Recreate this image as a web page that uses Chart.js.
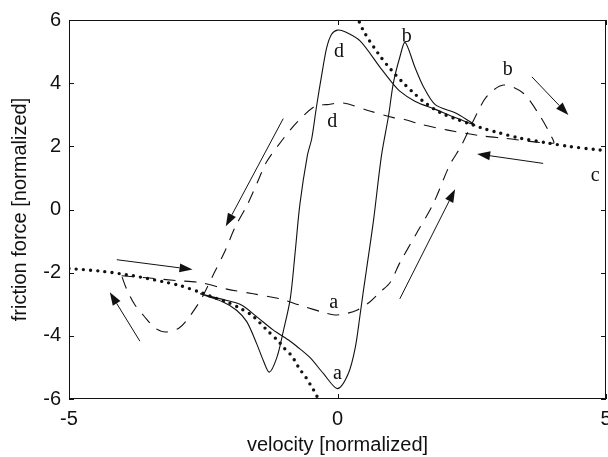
<!DOCTYPE html>
<html>
<head>
<meta charset="utf-8">
<script src="https://cdn.jsdelivr.net/npm/chart.js@4.4.1/dist/chart.umd.min.js"></script>
<style>
  html, body { margin: 0; padding: 0; background: #fff; }
  #wrap { width: 608px; height: 457px; position: relative; }
</style>
</head>
<body>
<div id="wrap"><canvas id="frictionChart"></canvas></div>
<script>
// steady-state friction curve (dotted), v > 0 and v < 0 branches
const dotPosV = [0.36, 0.41, 0.48, 0.60, 0.71, 0.80, 1.00, 1.20, 1.40, 1.60, 1.80, 2.00, 2.25, 2.50, 2.75, 3.00, 3.40, 3.90, 4.30, 4.80, 5.00];
const dotPosF = [6.15, 5.92, 5.67, 5.33, 5.06, 4.84, 4.42, 4.05, 3.72, 3.42, 3.18, 3.00, 2.84, 2.69, 2.55, 2.43, 2.26, 2.11, 2.00, 1.90, 1.86];
const dotNegV = [-5.00, -4.42, -3.80, -3.18, -2.93, -2.56, -2.31, -2.06, -1.82, -1.60, -1.45, -1.29, -1.10, -1.00, -0.88, -0.79, -0.71, -0.59, -0.48, -0.39, -0.35];
const dotNegF = [-1.87, -1.95, -2.10, -2.31, -2.41, -2.62, -2.78, -2.93, -3.12, -3.34, -3.58, -3.86, -4.17, -4.38, -4.58, -4.80, -5.04, -5.31, -5.62, -5.88, -6.15];

// small-amplitude hysteresis loop (solid)
const loopV = [-2.56, -2.06, -1.78, -1.50, -1.20, -0.88, -0.76, -0.51, -0.26, 0.00,
  0.20, 0.33, 0.42, 0.48, 0.54, 0.67, 0.82, 0.95, 1.04, 1.16, 1.26,
  1.44, 1.60, 1.82, 2.19, 2.44, 2.56,
  2.44, 2.19, 1.82, 1.44, 1.16, 1.00, 0.79, 0.42, 0.15, 0.00,
  -0.11, -0.20, -0.29, -0.39, -0.48, -0.56, -0.70, -0.79, -0.88, -1.01, -1.13, -1.27,
  -1.38, -1.50, -1.69, -1.88, -2.13, -2.56];
const loopF = [-2.67, -2.88, -3.03, -3.40, -3.81, -4.17, -4.33, -4.69, -5.20, -5.67,
  -5.20, -4.38, -3.34, -2.60, -1.90, -0.35, 1.72, 2.96, 4.00, 4.82, 5.29,
  4.51, 3.89, 3.32, 3.06, 2.81, 2.67,
  2.75, 2.91, 3.17, 3.43, 3.75, 4.05, 4.51, 5.34, 5.62, 5.68,
  5.55, 5.13, 4.30, 3.27, 2.24, 1.72, 0.17, -1.38, -2.83, -3.86, -4.69, -5.15,
  -4.79, -4.27, -3.55, -3.19, -2.93, -2.67];

// large-amplitude hysteresis loop (dashed)
const wideV = [-4.02, -3.50, -3.00, -2.56, -2.06, -1.57, -1.07, -0.70, -0.20, -0.05, 0.17, 0.36, 0.60, 0.79, 0.98,
  1.16, 1.47, 1.78, 2.09, 2.30, 2.53, 2.78, 3.09, 3.46, 3.77, 3.99, 4.02,
  3.09, 2.65, 2.03, 1.57, 1.23, 1.04, 0.60, 0.11, -0.20, -0.42, -0.76, -1.01, -1.32,
  -1.49, -1.68, -1.91, -2.09, -2.30, -2.53, -2.76, -2.95, -3.20, -3.40, -3.60, -3.78, -3.92, -4.02];
const wideF = [-2.10, -2.17, -2.25, -2.31, -2.52, -2.67, -2.83, -3.03, -3.29, -3.34, -3.29, -3.19, -2.93, -2.62, -2.31,
  -1.69, -0.76, 0.17, 1.41, 2.00, 2.81, 3.58, 3.94, 3.68, 2.96, 2.29, 2.10,
  2.26, 2.34, 2.52, 2.69, 2.86, 2.91, 3.12, 3.37, 3.32, 3.27, 2.75, 2.24, 1.51,
  0.87, 0.15, -0.57, -1.30, -2.02, -2.81, -3.40, -3.75, -3.88, -3.75, -3.38, -3.00, -2.55, -2.10];

// axis ticks
const xTicks = [-5, 0, 5];
const yTicks = [-6, -4, -2, 0, 2, 4, 6];

// letter marks on the curves: text, velocity, force (baseline position)
const markText = ['d', 'd', 'b', 'b', 'c', 'a', 'a'];
const markV = [0.03, -0.10, 1.29, 3.17, 4.80, -0.07, 0.00];
const markF = [4.84, 2.60, 5.29, 4.25, 0.89, -3.12, -5.36];

// direction arrows: tail (v, F) -> head (v, F)
const arrowFromV = [-1.01, 3.62, 3.83, 1.16, -4.11, -3.68];
const arrowFromF = [2.88, 4.20, 1.46, -2.83, -1.59, -4.17];
const arrowToV = [-2.08, 4.30, 2.60, 2.19, -2.70, -4.24];
const arrowToF = [-0.53, 2.99, 1.76, 0.64, -1.90, -2.62];

const toPoints = (xs, ys) => xs.map((x, i) => ({ x: x, y: ys[i] }));

const ink = '#111';

// frame, inward tick marks, arrows and letters
const decorations = {
    id: 'decorations',
    afterDatasetsDraw(chart) {
        const { ctx, chartArea: a, scales: { x, y } } = chart;
        ctx.save();
        ctx.strokeStyle = ink;
        ctx.lineWidth = 1;
        ctx.strokeRect(a.left + 0.5, a.top + 0.5, a.right - a.left - 1, a.bottom - a.top - 1);

        const tl = 5;
        ctx.beginPath();
        yTicks.forEach(t => {
            const py = Math.round(y.getPixelForValue(t)) + 0.5;
            ctx.moveTo(a.left, py); ctx.lineTo(a.left + tl, py);
            ctx.moveTo(a.right, py); ctx.lineTo(a.right - tl, py);
        });
        xTicks.forEach(t => {
            const px = Math.round(x.getPixelForValue(t)) + 0.5;
            ctx.moveTo(px, a.bottom); ctx.lineTo(px, a.bottom - tl);
            ctx.moveTo(px, a.top); ctx.lineTo(px, a.top + tl);
        });
        ctx.stroke();

        // arrows
        ctx.fillStyle = ink;
        ctx.lineWidth = 1;
        arrowFromV.forEach((v, i) => {
            const x1 = x.getPixelForValue(v), y1 = y.getPixelForValue(arrowFromF[i]);
            const x2 = x.getPixelForValue(arrowToV[i]), y2 = y.getPixelForValue(arrowToF[i]);
            const ang = Math.atan2(y2 - y1, x2 - x1);
            const hl = 13, hw = 4.5;
            const bx = x2 - hl * Math.cos(ang), by = y2 - hl * Math.sin(ang);
            ctx.beginPath();
            ctx.moveTo(x1, y1);
            ctx.lineTo(bx, by);
            ctx.stroke();
            ctx.beginPath();
            ctx.moveTo(x2, y2);
            ctx.lineTo(bx + hw * Math.sin(ang), by - hw * Math.cos(ang));
            ctx.lineTo(bx - hw * Math.sin(ang), by + hw * Math.cos(ang));
            ctx.closePath();
            ctx.fill();
        });

        // curve letters
        ctx.font = '20px "Liberation Serif"';
        ctx.textAlign = 'center';
        ctx.textBaseline = 'alphabetic';
        markText.forEach((s, i) => {
            ctx.fillText(s, x.getPixelForValue(markV[i]), y.getPixelForValue(markF[i]));
        });
        ctx.restore();
    }
};

const tickFont = { family: '"Liberation Sans", Arial, sans-serif', size: 20 };

new Chart(document.getElementById('frictionChart'), {
    type: 'scatter',
    data: {
        datasets: [
            {
                data: toPoints(dotPosV, dotPosF),
                showLine: true, borderColor: ink, borderWidth: 3.4,
                borderDash: [0, 7.2], borderCapStyle: 'round',
                pointRadius: 0, tension: 0.3, clip: 0
            },
            {
                data: toPoints(dotNegV, dotNegF),
                showLine: true, borderColor: ink, borderWidth: 3.4,
                borderDash: [0, 7.2], borderCapStyle: 'round',
                pointRadius: 0, tension: 0.3, clip: 0
            },
            {
                data: toPoints(loopV, loopF),
                showLine: true, borderColor: ink, borderWidth: 1.1,
                pointRadius: 0, tension: 0.3, clip: 0
            },
            {
                data: toPoints(wideV, wideF),
                showLine: true, borderColor: ink, borderWidth: 1.1,
                borderDash: [12, 9],
                pointRadius: 0, tension: 0.3, clip: 0
            }
        ]
    },
    options: {
        responsive: true,
        maintainAspectRatio: false,
        animation: false,
        layout: { padding: { top: 12, right: 2, left: 0, bottom: 0 } },
        plugins: { legend: { display: false }, tooltip: { enabled: false } },
        scales: {
            x: {
                type: 'linear', min: -5, max: 5,
                afterBuildTicks: s => { s.ticks = xTicks.map(v => ({ value: v })); },
                afterFit: s => { s.height = 58; s.paddingLeft = 0; s.paddingRight = 0; },
                grid: { display: false, drawTicks: false },
                border: { display: false },
                ticks: { color: ink, font: tickFont, padding: 8, maxRotation: 0 },
                title: {
                    display: true, text: 'velocity [normalized]', color: ink,
                    font: tickFont, padding: { top: 0, bottom: 0 }
                }
            },
            y: {
                type: 'linear', min: -6, max: 6,
                afterBuildTicks: s => { s.ticks = yTicks.map(v => ({ value: v })); },
                afterFit: s => { s.width = 69; },
                grid: { display: false, drawTicks: false },
                border: { display: false },
                ticks: { color: ink, font: tickFont, padding: 8 },
                title: {
                    display: true, text: 'friction force [normalized]', color: ink,
                    font: tickFont, padding: { top: 8, bottom: 0 }
                }
            }
        }
    },
    plugins: [decorations]
});
</script>
</body>
</html>
